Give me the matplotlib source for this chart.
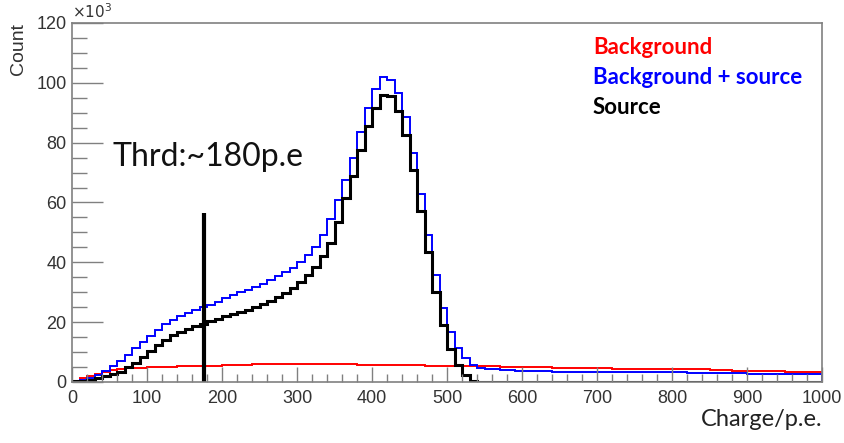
import numpy as np
import matplotlib
matplotlib.use("Agg")
import matplotlib.pyplot as plt
from matplotlib.ticker import MultipleLocator

# charge bins (p.e.), 100 bins of width 10
edges = np.arange(0, 1001, 10)

# counts in units of 10^3
source = [0.2, 0.4, 0.8, 1.3, 2.0, 2.6, 3.5, 5.0, 6.5, 8.5,
          10.5, 12.3, 14.0, 15.6, 16.8, 17.8, 18.7, 19.5, 20.3, 21.2,
          22.0, 22.8, 23.5, 24.2, 25.0, 26.0, 27.0, 28.3, 29.8, 31.5,
          33.5, 35.8, 38.5, 42.0, 46.5, 53.5, 61.5, 69.0, 77.5, 85.5,
          91.5, 96.0, 95.5, 90.7, 82.5, 70.7, 57.0, 43.3, 30.0, 19.0,
          11.0, 5.7, 2.3, 0.5, 0.1, 0, 0, 0, 0, 0] + [0] * 40

bg_source = [0.3, 0.8, 1.5, 2.5, 3.8, 5.3, 7.0, 9.0, 11.2, 13.3,
             15.5, 17.5, 19.3, 20.8, 22.0, 23.0, 24.0, 25.0, 25.8, 26.8,
             28.0, 29.0, 30.0, 30.8, 31.8, 32.8, 34.0, 35.3, 36.7, 38.2,
             40.0, 42.3, 45.0, 49.0, 54.5, 61.0, 67.5, 75.0, 83.5, 91.5,
             98.0, 102.0, 101.0, 96.5, 88.5, 76.7, 63.0, 49.0, 35.7, 24.7,
             16.7, 11.3, 8.0, 5.7, 4.8, 4.4, 4.2, 4.0, 3.9, 3.8,
             3.8, 3.7, 3.7, 3.6, 3.5, 3.5, 3.4, 3.4, 3.4, 3.4,
             3.4, 3.3, 3.3, 3.3, 3.2, 3.2, 3.3, 3.3, 3.2, 3.2,
             3.2, 3.2, 3.1, 3.1, 3.1, 3.1, 3.0, 3.0, 3.0, 2.9,
             2.7, 2.8, 2.8, 2.8, 2.8, 2.8, 2.8, 2.7, 2.7, 2.7]

background = [0.5, 1.2, 1.9, 2.6, 3.3, 3.9, 4.3, 4.6, 4.7, 4.8,
              4.9, 5.0, 5.0, 5.1, 5.2, 5.2, 5.3, 5.3, 5.4, 5.5,
              5.6, 5.7, 5.8, 5.8, 5.9, 5.9, 6.0, 6.0, 6.1, 6.1,
              6.1, 6.1, 6.0, 6.0, 6.0, 5.9, 5.9, 5.9, 5.8, 5.8,
              5.8, 5.7, 5.7, 5.7, 5.6, 5.6, 5.6, 5.5, 5.5, 5.5,
              5.4, 5.4, 5.3, 5.3, 5.3, 5.2, 5.2, 5.1, 5.1, 5.0,
              5.0, 5.0, 4.9, 4.9, 4.8, 4.8, 4.7, 4.7, 4.7, 4.6,
              4.6, 4.6, 4.5, 4.5, 4.5, 4.5, 4.4, 4.4, 4.4, 4.4,
              4.3, 4.3, 4.3, 4.2, 4.2, 4.0, 3.9, 3.9, 3.8, 3.8,
              3.8, 3.7, 3.7, 3.6, 3.6, 3.5, 3.4, 3.4, 3.4, 3.4]

thrd = 176
thrd_top = 56.5

fig = plt.figure(figsize=(8.44, 4.43), dpi=100)
ax = fig.add_axes([72 / 844, 61 / 443, 750 / 844, 359 / 443])

ax.stairs(background, edges, color="#ff0000", lw=1.4)
ax.stairs(bg_source, edges, color="#0000ff", lw=1.4)
ax.stairs(source, edges, color="black", lw=2.2)
ax.plot([thrd, thrd], [0, thrd_top], color="black", lw=3, solid_capstyle="butt")

ax.set_xlim(0, 1000)
ax.set_ylim(0, 120)
ax.xaxis.set_major_locator(MultipleLocator(100))
ax.xaxis.set_minor_locator(MultipleLocator(20))
ax.yaxis.set_major_locator(MultipleLocator(20))
ax.yaxis.set_minor_locator(MultipleLocator(5))

gray = "#808080"
for s in ax.spines.values():
    s.set_color(gray)
    s.set_linewidth(1.2)
ax.tick_params(axis="x", which="major", direction="in", length=11, color=gray, width=1, pad=6)
ax.tick_params(axis="x", which="minor", direction="in", length=6, color=gray, width=1)
ax.tick_params(axis="y", which="major", direction="in", length=22, color=gray, width=1, pad=4)
ax.tick_params(axis="y", which="minor", direction="in", length=11, color=gray, width=1)
for lab in ax.get_xticklabels() + ax.get_yticklabels():
    lab.set_fontfamily("Liberation Sans")
    lab.set_fontsize(13)
    lab.set_color("#333333")

fig.text(72 / 844, 1 - 21 / 443, r"$\times10^{3}$", fontsize=11, color="#333333",
         ha="left", va="bottom")
fig.text(18 / 844, 1 - 23 / 443, "Count", rotation=90, fontsize=14,
         family="Liberation Sans", ha="center", va="top", color="#333333")
fig.text(822 / 844, 1 - 420 / 443, "Charge/p.e.", fontsize=17, family="Lato",
         ha="right", va="center", color="#222222")
fig.text(112 / 844, 1 - 157 / 443, "Thrd:~180p.e", fontsize=23, family="Lato",
         ha="left", va="center", color="#111111")

for txt, col, yp in [("Background", "#ff0000", 48),
                     ("Background + source", "#0000ff", 78),
                     ("Source", "black", 108)]:
    fig.text(593 / 844, 1 - yp / 443, txt, fontsize=16, family="Lato",
             weight="bold", color=col, ha="left", va="center")

fig.savefig("out.png", dpi=100)
